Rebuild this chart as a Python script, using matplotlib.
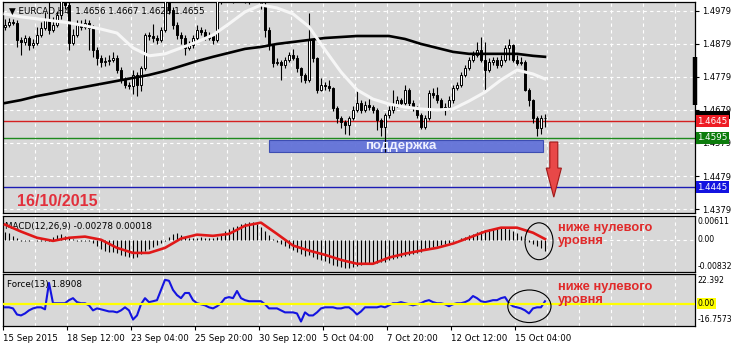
import matplotlib
matplotlib.use("Agg")
import matplotlib.pyplot as plt
import matplotlib.transforms as mtransforms
from matplotlib.patches import Rectangle, Ellipse

plt.rcParams['font.family'] = ['DejaVu Sans']

header = "EURCAD,H4  1.4656 1.4667 1.4628 1.4655"
first_open = 1.4930

closes = [
    1.4937, 1.4946, 1.4943, 1.4891, 1.4885, 1.4897, 1.4876, 1.4882, 1.4906, 1.4928,
    1.4952, 1.4921, 1.4937, 1.4967, 1.5027, 1.4997, 1.4882, 1.4906, 1.4937, 1.4931,
    1.4943, 1.4928, 1.4861, 1.4837, 1.4824, 1.4826, 1.4831, 1.4837, 1.4800, 1.4770,
    1.4755, 1.4752, 1.4785, 1.4755, 1.4806, 1.4906, 1.4903, 1.4897, 1.4891, 1.4921,
    1.5012, 1.4982, 1.4937, 1.4906, 1.4897, 1.4867, 1.4876, 1.4897, 1.4921, 1.4915,
    1.4897, 1.4903, 1.4891, 1.5027, 1.5043, 1.5058, 1.5073, 1.5049, 1.5067, 1.5088,
    1.5058, 1.5043, 1.5027, 1.5037, 1.4997, 1.4921, 1.4876, 1.4821, 1.4824, 1.4815,
    1.4831, 1.4846, 1.4837, 1.4806, 1.4785, 1.4770, 1.4891, 1.4837, 1.4740, 1.4755,
    1.4752, 1.4746, 1.4685, 1.4655, 1.4643, 1.4634, 1.4655, 1.4679, 1.4700, 1.4679,
    1.4694, 1.4688, 1.4679, 1.4649, 1.4628, 1.4664, 1.4679, 1.4694, 1.4709, 1.4700,
    1.4740, 1.4700, 1.4685, 1.4664, 1.4628, 1.4655, 1.4731, 1.4725, 1.4709, 1.4685,
    1.4688, 1.4709, 1.4746, 1.4755, 1.4785, 1.4806, 1.4831, 1.4846, 1.4861, 1.4831,
    1.4800, 1.4824, 1.4831, 1.4815, 1.4831, 1.4867, 1.4876, 1.4831, 1.4821, 1.4824,
    1.4740, 1.4709, 1.4655, 1.4624, 1.4656, 1.4655,
]
highs = [
    1.4955, 1.4958, 1.4955, 1.4950, 1.4900, 1.4905, 1.4903, 1.4895, 1.4930, 1.4945,
    1.4975, 1.5012, 1.4960, 1.4980, 1.5050, 1.5060, 1.5010, 1.4925, 1.4952, 1.4950,
    1.4955, 1.4950, 1.4935, 1.4870, 1.4845, 1.4840, 1.4845, 1.4855, 1.4845, 1.4810,
    1.4778, 1.4765, 1.4800, 1.4795, 1.4812, 1.4912, 1.4915, 1.4940, 1.4905, 1.4930,
    1.5030, 1.5025, 1.4990, 1.4945, 1.4915, 1.4905, 1.4888, 1.4905, 1.4935, 1.4930,
    1.4925, 1.4915, 1.4910, 1.5040, 1.5060, 1.5070, 1.5085, 1.5080, 1.5078, 1.5100,
    1.5095, 1.5065, 1.5055, 1.5050, 1.5045, 1.5005, 1.4930, 1.4880, 1.4835, 1.4830,
    1.4840, 1.4855, 1.4865, 1.4845, 1.4810, 1.4790, 1.4973, 1.4895, 1.4840, 1.4775,
    1.4765, 1.4770, 1.4750, 1.4690, 1.4662, 1.4650, 1.4662, 1.4690, 1.4740, 1.4710,
    1.4705, 1.4712, 1.4695, 1.4685, 1.4655, 1.4670, 1.4690, 1.4740, 1.4720, 1.4715,
    1.4755, 1.4745, 1.4710, 1.4690, 1.4670, 1.4665, 1.4740, 1.4745, 1.4750, 1.4715,
    1.4700, 1.4720, 1.4755, 1.4765, 1.4795, 1.4815, 1.4840, 1.4858, 1.4885, 1.4900,
    1.4885, 1.4835, 1.4840, 1.4838, 1.4845, 1.4875, 1.4895, 1.4880, 1.4845, 1.4840,
    1.4830, 1.4745, 1.4712, 1.4660, 1.4665, 1.4667,
]
lows = [
    1.4920, 1.4930, 1.4935, 1.4870, 1.4845, 1.4875, 1.4860, 1.4868, 1.4875, 1.4900,
    1.4920, 1.4910, 1.4915, 1.4930, 1.4955, 1.4985, 1.4862, 1.4875, 1.4900, 1.4922,
    1.4925, 1.4860, 1.4840, 1.4815, 1.4810, 1.4812, 1.4815, 1.4825, 1.4790, 1.4760,
    1.4745, 1.4742, 1.4728, 1.4722, 1.4735, 1.4800, 1.4890, 1.4885, 1.4880, 1.4885,
    1.4915, 1.4970, 1.4925, 1.4895, 1.4880, 1.4845, 1.4860, 1.4868, 1.4890, 1.4905,
    1.4890, 1.4890, 1.4880, 1.4885, 1.5000, 1.5005, 1.5010, 1.5002, 1.5008, 1.5040,
    1.5004, 1.5000, 1.5006, 1.5005, 1.4985, 1.4900, 1.4860, 1.4810, 1.4815, 1.4770,
    1.4805, 1.4825, 1.4830, 1.4795, 1.4765, 1.4760, 1.4765, 1.4825, 1.4730, 1.4735,
    1.4740, 1.4735, 1.4675, 1.4640, 1.4625, 1.4605, 1.4603, 1.4650, 1.4672, 1.4670,
    1.4672, 1.4680, 1.4670, 1.4618, 1.4600, 1.4552, 1.4655, 1.4670, 1.4688, 1.4690,
    1.4695, 1.4690, 1.4675, 1.4655, 1.4620, 1.4622, 1.4650, 1.4715, 1.4700, 1.4678,
    1.4665, 1.4680, 1.4700, 1.4740, 1.4750, 1.4778, 1.4800, 1.4825, 1.4840, 1.4825,
    1.4740, 1.4795, 1.4815, 1.4805, 1.4808, 1.4825, 1.4830, 1.4825, 1.4815, 1.4815,
    1.4735, 1.4690, 1.4640, 1.4600, 1.4605, 1.4628,
]

# moving averages and MACD signal, read every 4th bar (plus the last one)
line_bars = list(range(0, 136, 4)) + [135]
ma_fast = [1.4970, 1.4961, 1.4955, 1.4949, 1.4943, 1.4934, 1.4924, 1.4912, 1.4867, 1.4843,
           1.4849, 1.4867, 1.4885, 1.4906, 1.4940, 1.4976, 1.4997, 1.4988, 1.4970, 1.4931,
           1.4861, 1.4794, 1.4740, 1.4712, 1.4697, 1.4688, 1.4682, 1.4679, 1.4682, 1.4706,
           1.4733, 1.4770, 1.4800, 1.4788, 1.4773]
ma_slow = [1.4700, 1.4709, 1.4721, 1.4730, 1.4740, 1.4749, 1.4758, 1.4767, 1.4776, 1.4785,
           1.4797, 1.4812, 1.4827, 1.4840, 1.4852, 1.4864, 1.4870, 1.4879, 1.4885, 1.4891,
           1.4897, 1.4900, 1.4903, 1.4903, 1.4903, 1.4894, 1.4879, 1.4867, 1.4855, 1.4849,
           1.4849, 1.4849, 1.4849, 1.4843, 1.4840]
macd_signal = [0.0039, 0.0021, 0.0005, -0.0003, 0.0005, 0.0008, 0.0000, -0.0021, -0.0034, -0.0034,
               -0.0021, 0.0003, 0.0013, 0.0010, 0.0015, 0.0036, 0.0044, 0.0015, -0.0015, -0.0028,
               -0.0039, -0.0052, -0.0062, -0.0062, -0.0046, -0.0036, -0.0028, -0.0021, -0.0010, 0.0005,
               0.0021, 0.0031, 0.0031, 0.0018, 0.00018]

macd_main = [
    0.0021, 0.0018, 0.0010, 0.0005,
    -0.0003, -0.0003, -0.0003, 0.0000, -0.0003, -0.0003, -0.0003, -0.0003,
    0.0008, 0.0013, 0.0015, 0.0010, 0.0005,
    0.0003, -0.0003, -0.0003, -0.0003, -0.0003,
    -0.0008, -0.0015, -0.0023,
    -0.0028, -0.0031, -0.0031, -0.0034, -0.0039, -0.0041, -0.0044, -0.0046,
    -0.0044, -0.0036, -0.0028, -0.0023, -0.0018, -0.0013, -0.0008, -0.0003,
    0.0008, 0.0015, 0.0018, 0.0013,
    0.0008, 0.0005, 0.0005, 0.0005, 0.0008, 0.0005, 0.0005, 0.0005, 0.0008,
    0.0015, 0.0023, 0.0028, 0.0034, 0.0036, 0.0041, 0.0044, 0.0046, 0.0046,
    0.0041, 0.0034, 0.0023, 0.0013, 0.0003,
    -0.0005, -0.0010, -0.0015, -0.0021, -0.0026, -0.0031, -0.0036, -0.0041,
    -0.0039, -0.0044, -0.0049, -0.0052, -0.0054,
    -0.0059, -0.0065, -0.0067, -0.0070, -0.0072, -0.0072, -0.0070,
    -0.0067, -0.0065, -0.0062, -0.0059, -0.0059, -0.0059, -0.0057, -0.0057,
    -0.0052, -0.0049, -0.0046, -0.0044, -0.0041, -0.0039, -0.0036, -0.0034,
    -0.0031, -0.0026, -0.0021, -0.0018, -0.0015, -0.0013, -0.0010,
    -0.0008, -0.0003, 0.0000,
    0.0005, 0.0008, 0.0013, 0.0015, 0.0021, 0.0023, 0.0026, 0.0028, 0.0028, 0.0031, 0.0031,
    0.0031, 0.0028, 0.0023, 0.0018, 0.0010,
    0.0003, -0.0005, -0.0010, -0.0015, -0.0021, -0.00278,
]

force = [
    -2.7, -2.7, -3.5, -8.1, -8.8, -7.3, -5.0, -3.5, -2.7, -2.7,
    -4.2, 15.7, 0.4, 0.4, 0.4, 0.4, 2.7, 4.2, 1.2, 0.4,
    0.4, -1.2, -5.0, -3.5, -4.2, -5.0, -5.8, -5.8, -6.5, -5.0,
    -2.7, -5.0, -11.9, -8.8, -0.4, 4.2, 1.2, 1.9, 2.7, 10.4,
    18.0, 17.3, 10.4, 6.5, 4.2, 8.1, 8.1, 2.7, 0.4, -0.4,
    -1.2, -2.7, -3.5, -1.9, 0.4, 4.2, 5.0, 4.2, 9.6, 4.2,
    2.7, 1.9, 1.9, 1.9, 1.9, -0.4, -3.5, -3.5, -3.5, -5.0,
    -6.5, -6.5, -6.5, -7.3, -13.4, -6.5, -8.8, -8.8, -6.5, -3.5,
    -2.7, -2.7, -2.7, -3.5, -3.5, -2.7, -2.7, -5.0, -8.1, -5.8,
    -2.7, -2.7, -2.7, -2.7, -1.9, -2.7, -1.2, 0.4, 0.4, 1.2,
    0.4, -0.4, -1.2, -0.4, 0.4, 1.9, 2.7, 1.2, 0.4, 0.4,
    -0.4, -1.9, -0.4, 0.4, 0.4, 1.2, 2.7, 5.8, 4.2, 1.9,
    1.2, 1.9, 2.7, 2.7, 4.2, 5.0, 0.4, -1.9, -2.7, -3.5,
    -5.0, -7.3, -3.5, -2.7, -2.7, 1.8908,
]

date_labels = ["15 Sep 2015", "18 Sep 12:00", "23 Sep 04:00", "25 Sep 20:00", "30 Sep 12:00",
               "5 Oct 04:00", "7 Oct 20:00", "12 Oct 12:00", "15 Oct 04:00"]
price_ticks = [1.4979, 1.4879, 1.4779, 1.4679, 1.4579, 1.4479, 1.4379]
level_red = 1.4645
level_green = 1.4595
level_blue = 1.4445
bid = 1.4655
support_low, support_high = 1.4552, 1.4588
macd_range = (-0.00832, 0.00611)
force_range = (-16.7573, 22.392)

BG = '#d8d8d8'
W, H = 735, 345
fig = plt.figure(figsize=(7.35, 3.45), dpi=100)
fig.patch.set_facecolor('white')


def rect(x0, y0, x1, y1):
    return [x0 / W, 1 - y1 / H, (x1 - x0) / W, (y1 - y0) / H]


def fpos(x, y):
    return x / W, 1 - y / H


ax = fig.add_axes(rect(3, 2, 695, 213))
ax_m = fig.add_axes(rect(3, 216, 695, 272))
ax_f = fig.add_axes(rect(3, 274, 695, 326))

n = len(closes)
bars = list(range(n))
opens = [first_open] + closes[:-1]
grid_x = [7.5 + 8 * k for k in range(21)]
dash = (0, (3, 3))

for a in (ax, ax_m, ax_f):
    a.set_facecolor(BG)
    a.set_xlim(-0.5, 172.5)
    for s in a.spines.values():
        s.set_color('black')
        s.set_linewidth(0.9)
    for gx in grid_x:
        a.axvline(gx, color='white', lw=0.8, ls=dash, zorder=1)
    a.yaxis.tick_right()
    a.tick_params(axis='y', length=3, direction='out', labelsize=6, pad=2)
    a.set_xticks([])

# main panel
ax.set_ylim(1.4367, 1.5006)
for p in price_ticks:
    ax.axhline(p, color='white', lw=0.8, ls=dash, zorder=1)
ax.set_yticks(price_ticks)
ax.set_yticklabels([f"{p:.4f}" for p in price_ticks])

ax.add_patch(Rectangle((66, support_low), 68.5, support_high - support_low,
                       facecolor='#6272d8', edgecolor='#3848b0', lw=0.8, alpha=0.95, zorder=2))
ax.axhline(level_red, color='#d42020', lw=1.0, zorder=2)
ax.axhline(level_green, color='#1e8a1e', lw=1.0, zorder=2)
ax.axhline(level_blue, color='#1c1cb4', lw=1.0, zorder=2)

ax.vlines(bars, lows, highs, color='black', lw=0.8, zorder=3)
for i in bars:
    o, c = opens[i], closes[i]
    fc = 'white' if c >= o else 'black'
    ax.bar(i, max(abs(c - o), 0.00008), bottom=min(o, c), width=0.62,
           facecolor=fc, edgecolor='black', lw=0.7, zorder=4)

ax.plot(line_bars, ma_slow, color='black', lw=1.9, zorder=5)
ax.plot(line_bars, ma_fast, color='#f6f6f6', lw=2.2, zorder=5)

ax.arrow(137.2, 1.4582, 0, 1.4415 - 1.4582, width=2.0, head_width=3.8,
         head_length=0.0088, length_includes_head=True,
         facecolor='#e84848', edgecolor='#a01818', lw=0.8, zorder=6, clip_on=False)

ax.annotate("\u25bc " + header, xy=(0, 1), xycoords='axes fraction', xytext=(6, -9),
            textcoords='offset pixels', fontsize=6.3, va='center', ha='left', zorder=8)

# price labels on the right
ytr = mtransforms.blended_transform_factory(ax.transAxes, ax.transData)
# bid marker: only its top edge shows above the red level box
ax.add_patch(Rectangle((1.002, bid - 0.0002), 0.048, 0.0022, transform=ytr,
                       facecolor='black', edgecolor='none', clip_on=False, zorder=8))
for val, col in [(level_red, '#ee1c24'), (level_green, '#0c7c0c'), (level_blue, '#1414e0')]:
    ax.text(1.003, val, f"{val:.4f}", transform=ytr, color='white', fontsize=6.3,
            va='center', ha='left', zorder=9,
            bbox=dict(boxstyle='square,pad=0.18', facecolor=col, edgecolor='none'))
ax.plot([172.5, 172.5], [1.4694, 1.4840], color='black', lw=3.2, solid_capstyle='butt',
        clip_on=False, zorder=9)

# MACD panel
ax_m.set_ylim(*macd_range)
ax_m.axhline(0, color='white', lw=0.8, ls=dash, zorder=1)
ax_m.vlines(bars, 0, macd_main, color='black', lw=0.8, zorder=3)
ax_m.plot(line_bars, macd_signal, color='#e01818', lw=1.9, zorder=4)
ax_m.set_yticks([])
ax_m.annotate("MACD(12,26,9) -0.00278 0.00018", xy=(0, 1), xycoords='axes fraction',
              xytext=(2, -10), textcoords='offset pixels', fontsize=6.3, va='center')
mtr = mtransforms.blended_transform_factory(ax_m.transAxes, ax_m.transData)
side = dict(fontsize=5.6, ha='left')
ax_m.text(1.004, 0.0058, "0.00611", transform=mtr, va='top', **side)
ax_m.text(1.004, 0.0, "0.00", transform=mtr, va='center', **side)
ax_m.text(1.004, -0.0080, "-0.00832", transform=mtr, va='bottom', **side)
ax_m.add_patch(Ellipse((133.5, -0.0004), 7.0, 0.0095, facecolor='none',
                       edgecolor='black', lw=0.8, zorder=6))

# Force panel
ax_f.set_ylim(*force_range)
ax_f.plot(bars, force, color='#1414e0', lw=1.5, zorder=3)
ax_f.axhline(0, color='#ffff00', lw=1.6, zorder=4)
ax_f.set_yticks([])
ax_f.annotate("Force(13) 1.8908", xy=(0, 1), xycoords='axes fraction',
              xytext=(4, -10), textcoords='offset pixels', fontsize=6.3, va='center')
ftr = mtransforms.blended_transform_factory(ax_f.transAxes, ax_f.transData)
ax_f.text(1.004, 21.0, "22.392", transform=ftr, va='top', **side)
ax_f.text(1.004, 0.0, "0.00", transform=ftr, va='center', **side,
          bbox=dict(boxstyle='square,pad=0.15', facecolor='#ffff00', edgecolor='none'))
ax_f.text(1.004, -15.5, "-16.7573", transform=ftr, va='bottom', **side)
ax_f.add_patch(Ellipse((131.1, -1.9), 10.8, 24.5, facecolor='none',
                       edgecolor='black', lw=0.8, zorder=6))

ax_f.set_xticks([16 * k - 0.5 for k in range(len(date_labels))])
ax_f.set_xticklabels(date_labels, fontsize=6.2, ha='left')
ax_f.tick_params(axis='x', length=3, direction='out', pad=3)

# annotations
fig.text(*fpos(17, 201), "16/10/2015", color='#e2303c', fontsize=11.5,
         fontweight='bold', family='Liberation Sans', va='center', ha='left')
fig.text(*fpos(401, 146), "поддержка", color='#eef0ff', fontsize=9.5,
         fontweight='bold', family='Liberation Sans', va='center', ha='center')
for ytop in (222, 281):
    fig.text(*fpos(558, ytop), "ниже нулевого\nуровня", color='#e02a2a', fontsize=9.3,
             fontweight='bold', family='Liberation Sans', va='top', ha='left',
             linespacing=1.15)

fig.savefig("out.png", dpi=100)
